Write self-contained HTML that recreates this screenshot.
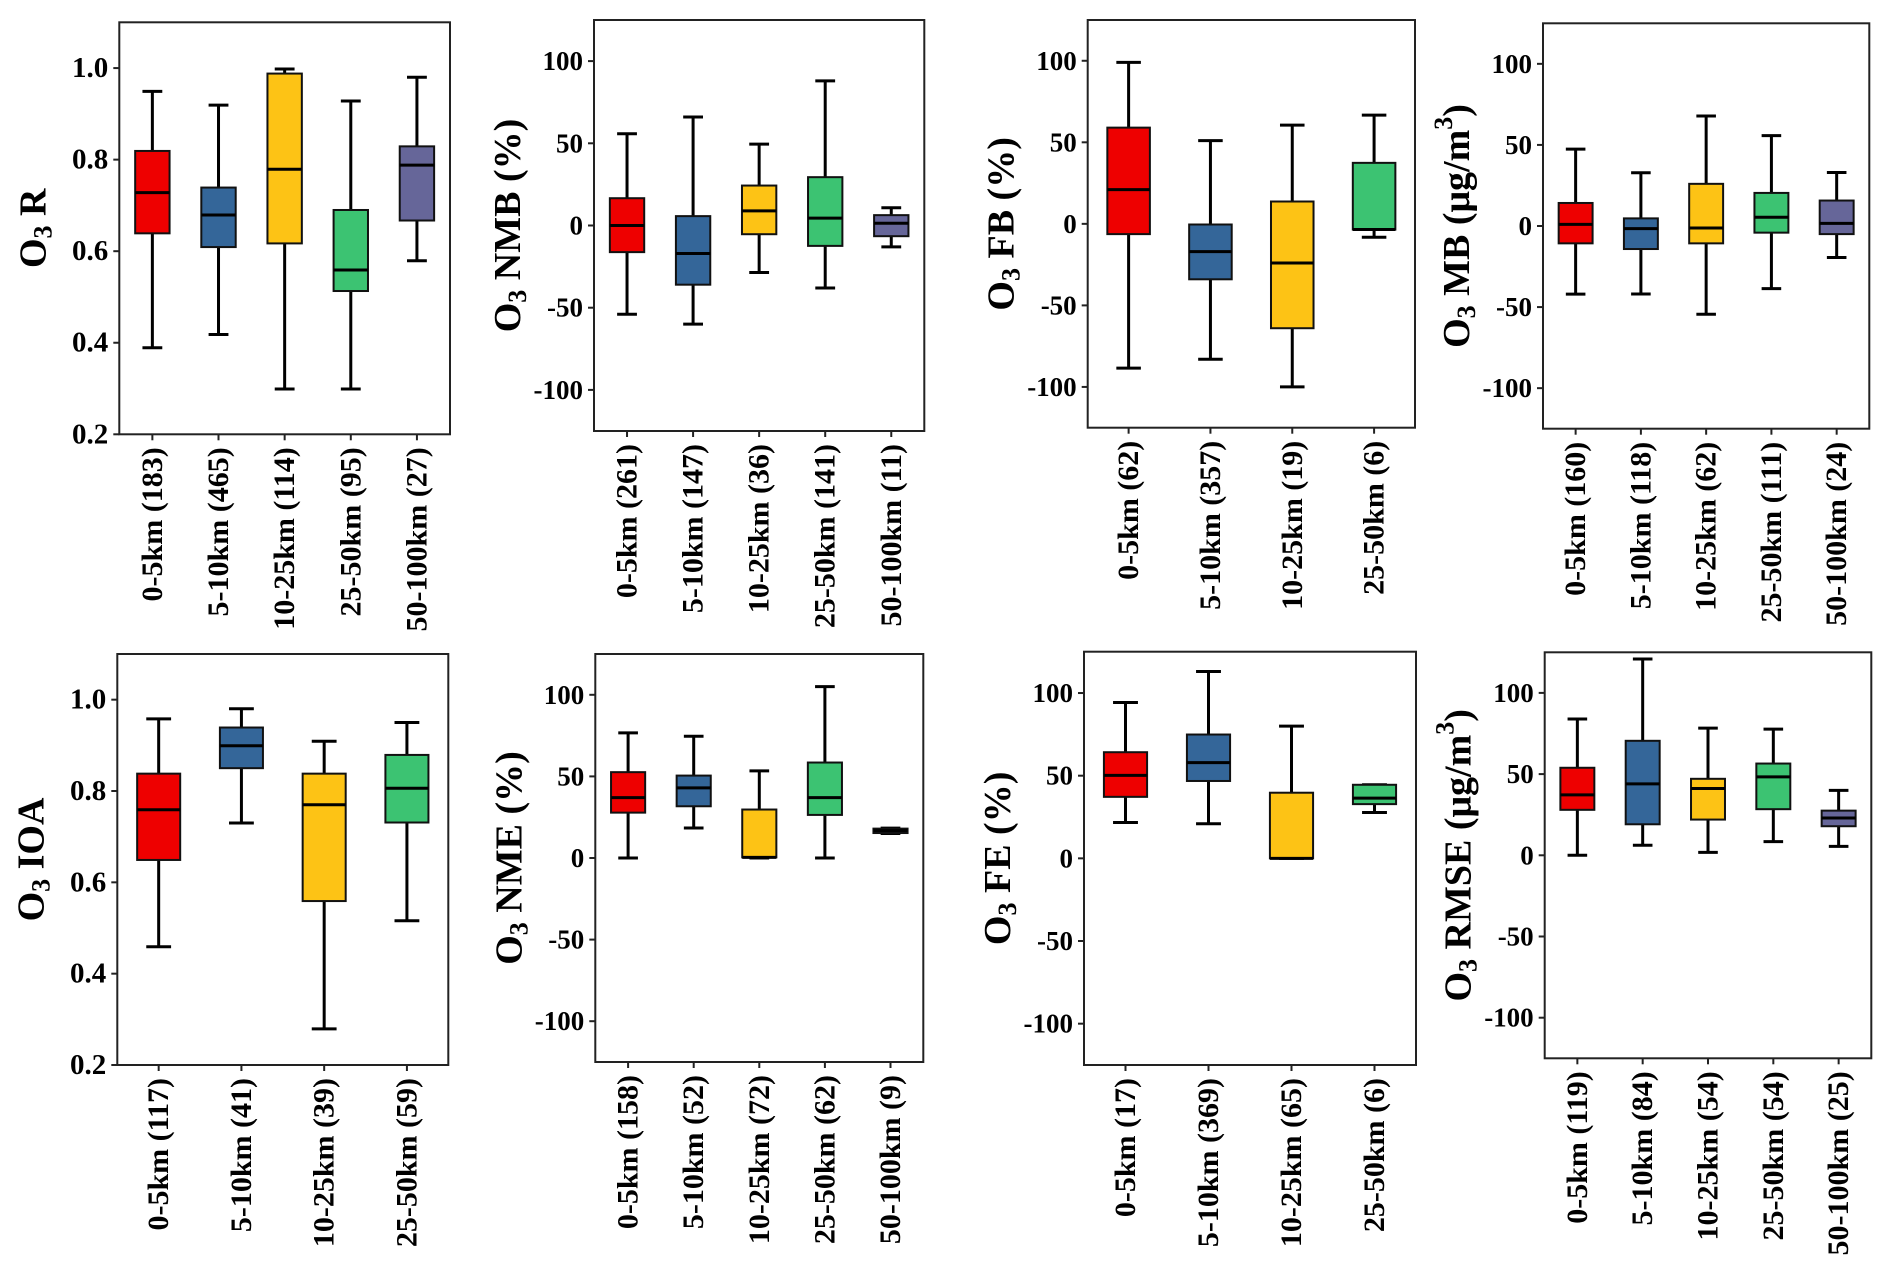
<!DOCTYPE html>
<html><head><meta charset="utf-8"><style>
html,body{margin:0;padding:0;background:#fff;}
svg{display:block;}
svg text{font-family:"Liberation Serif","Times New Roman",Times,serif;font-weight:bold;}
</style></head><body>
<svg id="fig" xmlns="http://www.w3.org/2000/svg" width="1892" height="1270" viewBox="0 0 1892 1270" font-family="Liberation Serif, serif" font-weight="bold"></svg>
<script>
// ---- data ----
const catsR=["0-5km (183)","5-10km (465)","10-25km (114)","25-50km (95)","50-100km (27)"];
const rLo=[0.389,0.418,0.299,0.299,0.579], rQ1=[0.639,0.609,0.617,0.513,0.667], rMed=[0.728,0.679,0.779,0.559,0.788], rQ3=[0.819,0.739,0.988,0.69,0.829], rHi=[0.949,0.919,0.998,0.928,0.98];
const catsNMB=["0-5km (261)","5-10km (147)","10-25km (36)","25-50km (141)","50-100km (11)"];
const nmbLo=[-54,-60,-28.6,-38,-13], nmbQ1=[-16.2,-36,-5.3,-12.4,-6.5], nmbMed=[0,-17,8.9,4.5,1.4], nmbQ3=[16.6,5.7,24.3,29.4,6.3], nmbHi=[55.8,66,49.5,88,10.8];
const catsFB=["0-5km (62)","5-10km (357)","10-25km (19)","25-50km (6)"];
const fbLo=[-88.5,-83,-100,-8.2], fbQ1=[-6.3,-34,-64,-3.5], fbMed=[21,-17,-24,-3.5], fbQ3=[59,-0.4,13.7,37.4], fbHi=[99,51,60.5,66.7];
const catsMB=["0-5km (160)","5-10km (118)","10-25km (62)","25-50km (111)","50-100km (24)"];
const mbLo=[-42,-41.9,-54.4,-38.6,-19.4], mbQ1=[-10.7,-14.2,-10.7,-4.1,-5], mbMed=[1,-1.6,-1.2,5.4,1.6], mbQ3=[14.2,4.7,26,20.4,15.7], mbHi=[47.4,32.8,67.8,55.7,33];
const catsIOA=["0-5km (117)","5-10km (41)","10-25km (39)","25-50km (59)"];
const ioaLo=[0.459,0.73,0.279,0.516], ioaQ1=[0.649,0.85,0.559,0.731], ioaMed=[0.759,0.899,0.77,0.806], ioaQ3=[0.838,0.939,0.838,0.879], ioaHi=[0.958,0.98,0.909,0.95];
const catsNME=["0-5km (158)","5-10km (52)","10-25km (72)","25-50km (62)","50-100km (9)"];
const nmeLo=[0,18.4,0,0,15], nmeQ1=[27.8,31.7,0.4,26.4,15.3], nmeMed=[37,43,0.4,37,16.8], nmeQ3=[52.6,50.5,29.7,58.5,18], nmeHi=[76.7,74.6,53.4,105,18.3];
const catsFE=["0-5km (17)","5-10km (369)","10-25km (65)","25-50km (6)"];
const feLo=[21.7,20.9,0,27.7], feQ1=[37.2,46.8,0,32.8], feMed=[50.2,57.9,0,36.4], feQ3=[64.2,74.9,39.7,44.5], feHi=[94.3,113,80,44.5];
const catsRMSE=["0-5km (119)","5-10km (84)","10-25km (54)","25-50km (54)","50-100km (25)"];
const rmseLo=[0,6.2,1.8,8.4,5.5], rmseQ1=[28,19.1,22,28.4,17.9], rmseMed=[37.2,44,41.1,48.3,23], rmseQ3=[53.9,70.5,47.1,56.5,27.5], rmseHi=[83.9,120.9,78.3,77.7,40];
const ticksUnit=[0.2,0.4,0.6,0.8,1.0], ticksUnitLbl=["0.2","0.4","0.6","0.8","1.0"];
const ticksPct=[-100,-50,0,50,100], ticksPctLbl=["-100","-50","0","50","100"];

const colors=["#ee0000","#346699","#fdc315","#3cc372","#666699"];
const NS="http://www.w3.org/2000/svg";
const FONT='"Liberation Serif", "Times New Roman", serif';
const svg=document.getElementById('fig');
function mk(tag,attrs,parent){const e=document.createElementNS(NS,tag);for(const k in attrs)e.setAttribute(k,attrs[k]);(parent||svg).appendChild(e);return e;}

function panel(o){
  const g=mk('g',{});
  
  
  const n=o.cats.length, sp=(o.R-o.L)/n;
  const xs=i=>o.L+sp*(i+0.5);
  const ys=v=>o.B-(v-o.ymin)/(o.ymax-o.ymin)*(o.B-o.T);
  for(let i=0;i<n;i++){
    const bg=mk('g',{},g);
    
    
    const x=xs(i), hw=sp*0.26, cw=sp*0.15;
    mk('line',{x1:x,x2:x,y1:ys(o.hi[i]),y2:ys(o.q3[i]),stroke:'#000','stroke-width':3},bg);
    mk('line',{x1:x,x2:x,y1:ys(o.q1[i]),y2:ys(o.lo[i]),stroke:'#000','stroke-width':3},bg);
    mk('line',{x1:x-cw,x2:x+cw,y1:ys(o.hi[i]),y2:ys(o.hi[i]),stroke:'#000','stroke-width':3},bg);
    mk('line',{x1:x-cw,x2:x+cw,y1:ys(o.lo[i]),y2:ys(o.lo[i]),stroke:'#000','stroke-width':3},bg);
    const yt=ys(o.q3[i]), yb=ys(o.q1[i]);
    mk('rect',{x:x-hw,y:yt,width:2*hw,height:Math.max(yb-yt,0.5),fill:colors[i],stroke:'#111','stroke-width':2},bg);
    mk('line',{x1:x-hw,x2:x+hw,y1:ys(o.med[i]),y2:ys(o.med[i]),stroke:'#000','stroke-width':3},bg);
  }
  const fr=mk('rect',{x:o.L,y:o.T,width:o.R-o.L,height:o.B-o.T,fill:'none',stroke:'#222','stroke-width':2},g);
  
  
  for(let k=0;k<o.ticks.length;k++){
    const y=ys(o.ticks[k]);
    mk('line',{x1:o.L-6,x2:o.L,y1:y,y2:y,stroke:'#222','stroke-width':2},g);
    const t=mk('text',{x:o.L-11,y:y,'text-anchor':'end','dominant-baseline':'central','font-size':o.tfs,'font-family':FONT,'font-weight':'bold'},g);
    t.textContent=o.tickLbl[k];
    
    
  }
  for(let i=0;i<n;i++){
    const x=xs(i);
    mk('line',{x1:x,x2:x,y1:o.B,y2:o.B+6,stroke:'#222','stroke-width':2},g);
    const t=mk('text',{x:0,y:0,transform:`translate(${x},${o.B+13}) rotate(-90)`,'text-anchor':'end','dominant-baseline':'central','font-size':30,'font-family':FONT,'font-weight':'bold'},g);
    t.textContent=o.cats[i];
    
    
  }
  const cy=(o.T+o.B)/2;
  const tt=mk('text',{x:0,y:0,transform:`translate(${o.L-86},${cy}) rotate(-90)`,'text-anchor':'middle','dominant-baseline':'central','font-size':38,'font-family':FONT,'font-weight':'bold'},g);
  
  
  const a=document.createElementNS(NS,'tspan');a.textContent='O';tt.appendChild(a);
  const s=document.createElementNS(NS,'tspan');s.setAttribute('font-size','26');s.setAttribute('dy','9');s.textContent='3';tt.appendChild(s);
  const b=document.createElementNS(NS,'tspan');b.setAttribute('dy','-9');b.textContent=' '+o.title;tt.appendChild(b);
  if(o.sup){
    const c=document.createElementNS(NS,'tspan');c.setAttribute('font-size','26');c.setAttribute('dy','-14');c.textContent='3';tt.appendChild(c);
    const d=document.createElementNS(NS,'tspan');d.setAttribute('dy','14');d.textContent=')';tt.appendChild(d);
  }
}
const pct={ymin:-125,ymax:125,ticks:ticksPct,tickLbl:ticksPctLbl,tfs:27};
const uni={ymin:0.2,ymax:1.1,ticks:ticksUnit,tickLbl:ticksUnitLbl,tfs:29};
panel(Object.assign({name:'r',title:'R',L:119.3,R:450,T:22.3,B:434.3,cats:catsR,lo:rLo,q1:rQ1,med:rMed,q3:rQ3,hi:rHi},uni));
panel(Object.assign({name:'nmb',title:'NMB (%)',L:594,R:924.3,T:20,B:431,cats:catsNMB,lo:nmbLo,q1:nmbQ1,med:nmbMed,q3:nmbQ3,hi:nmbHi},pct));
panel(Object.assign({name:'fb',title:'FB (%)',L:1087.7,R:1415,T:20,B:427.7,cats:catsFB,lo:fbLo,q1:fbQ1,med:fbMed,q3:fbQ3,hi:fbHi},pct));
panel(Object.assign({name:'mb',title:'MB (μg/m',sup:true,L:1543,R:1869.3,T:23.3,B:428.7,cats:catsMB,lo:mbLo,q1:mbQ1,med:mbMed,q3:mbQ3,hi:mbHi},pct));
panel(Object.assign({name:'ioa',title:'IOA',L:117.3,R:448.3,T:654,B:1065,cats:catsIOA,lo:ioaLo,q1:ioaQ1,med:ioaMed,q3:ioaQ3,hi:ioaHi},uni));
panel(Object.assign({name:'nme',title:'NME (%)',L:595.3,R:923.3,T:654,B:1062,cats:catsNME,lo:nmeLo,q1:nmeQ1,med:nmeMed,q3:nmeQ3,hi:nmeHi},pct));
panel(Object.assign({name:'fe',title:'FE (%)',L:1084,R:1416,T:651.7,B:1065,cats:catsFE,lo:feLo,q1:feQ1,med:feMed,q3:feQ3,hi:feHi},pct));
panel(Object.assign({name:'rmse',title:'RMSE (μg/m',sup:true,L:1544.7,R:1871.3,T:652.3,B:1058.3,cats:catsRMSE,lo:rmseLo,q1:rmseQ1,med:rmseMed,q3:rmseQ3,hi:rmseHi},pct));
</script>
</body></html>
